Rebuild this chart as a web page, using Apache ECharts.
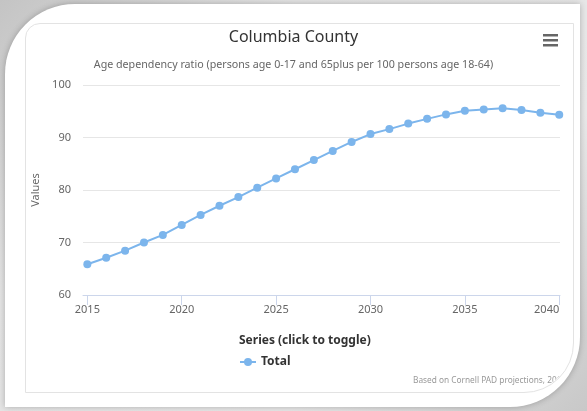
<!DOCTYPE html>
<html>
<head>
<meta charset="utf-8">
<script src="https://cdn.jsdelivr.net/npm/echarts@6/dist/echarts.min.js"></script>
<style>
    html, body { margin: 0; padding: 0; }
    body {
        width: 587px; height: 411px; overflow: hidden; position: relative;
        background: linear-gradient(135deg, #c4c4c4 0%, #e4e4e4 30%, #e8e8e8 70%, #c8c8c8 100%);
    }
    .card {
        position: absolute; left: 5px; top: 4px; width: 575px; height: 403px;
        background: #fff; border-radius: 70px 0 70px 0;
        box-shadow: 0 0 6px rgba(0,0,0,0.25);
    }
    .frame {
        position: absolute; left: 25px; top: 23px; width: 547px; height: 368px;
        border: 1px solid #e3e3e3; border-radius: 15px 0 50px 0;
    }
    #chart {
        position: absolute; left: 0; top: 0; width: 587px; height: 411px;
        clip-path: inset(23px 14px 19px 25px round 15px 0 50px 0);
    }
</style>
</head>
<body>
<div class="card"></div>
<div class="frame"></div>
<div id="chart"></div>
<script>
// 年份与数值
var years = [2015, 2016, 2017, 2018, 2019, 2020, 2021, 2022, 2023, 2024, 2025, 2026, 2027,
    2028, 2029, 2030, 2031, 2032, 2033, 2034, 2035, 2036, 2037, 2038, 2039, 2040];
var totals = [65.85, 67.1, 68.45, 70.0, 71.45, 73.35, 75.25, 77.0, 78.65, 80.45, 82.2, 83.95, 85.7,
    87.45, 89.15, 90.65, 91.6, 92.65, 93.55, 94.4, 95.1, 95.35, 95.55, 95.25, 94.7, 94.35];
var xTicks = [2015, 2020, 2025, 2030, 2035, 2040];

var font = 'Noto Sans';

var option = {
    animation: false,
    textStyle: { fontFamily: font },
    title: [
        {
            text: 'Columbia County',
            left: 'center',
            top: 24,
            textStyle: { fontFamily: font, fontSize: 16, fontWeight: 'normal', color: '#333' }
        },
        {
            text: 'Age dependency ratio (persons age 0-17 and 65plus per 100 persons age 18-64)',
            left: 'center',
            top: 54,
            textStyle: { fontFamily: font, fontSize: 10.7, fontWeight: 'normal', color: '#666' }
        },
        {
            text: 'Series (click to toggle)',
            left: 239,
            top: 335,
            padding: 0,
            textStyle: { fontFamily: font, fontSize: 12, fontWeight: 'bold', color: '#333' }
        },
        {
            text: 'Based on Cornell PAD projections, 2018',
            left: 413,
            top: 377,
            padding: 0,
            textStyle: { fontFamily: font, fontSize: 8.3, fontWeight: 'normal', color: '#999' }
        }
    ],
    legend: {
        left: 239,
        top: 356,
        padding: 0,
        itemWidth: 16,
        itemHeight: 10,
        itemGap: 4,
        textStyle: { fontFamily: font, fontSize: 12, fontWeight: 'bold', color: '#333' },
        data: ['Total']
    },
    graphic: [
        { type: 'rect', shape: { x: 543, y: 34, width: 15, height: 2.5 }, style: { fill: '#666' } },
        { type: 'rect', shape: { x: 543, y: 39, width: 15, height: 2.5 }, style: { fill: '#666' } },
        { type: 'rect', shape: { x: 543, y: 44, width: 15, height: 2.5 }, style: { fill: '#666' } }
    ],
    grid: {
        left: 83,
        right: 27,
        top: 85,
        bottom: 116
    },
    xAxis: {
        type: 'value',
        min: 2014.77,
        max: 2040.04,
        axisLine: { lineStyle: { color: '#ccd6eb', width: 1 } },
        axisTick: { show: true, length: 10, customValues: xTicks, lineStyle: { color: '#ccd6eb' } },
        axisLabel: {
            customValues: xTicks,
            formatter: function (v) { return String(v); },
            margin: 9,
            color: '#666',
            fontSize: 11,
            fontFamily: font,
            alignMaxLabel: 'right'
        },
        splitLine: { show: false }
    },
    yAxis: {
        type: 'value',
        min: 60,
        max: 100,
        interval: 10,
        name: 'Values',
        nameLocation: 'middle',
        nameGap: 40,
        nameTextStyle: { color: '#666', fontSize: 11, fontFamily: font },
        axisLine: { show: false },
        axisTick: { show: false },
        axisLabel: { margin: 12, color: '#666', fontSize: 11, fontFamily: font },
        splitLine: { lineStyle: { color: '#e6e6e6' } }
    },
    series: [
        {
            name: 'Total',
            type: 'line',
            color: '#7cb5ec',
            symbol: 'circle',
            symbolSize: 8,
            lineStyle: { width: 2 },
            data: years.map(function (y, i) { return [y, totals[i]]; })
        }
    ]
};

var myChart = echarts.init(document.getElementById('chart'));
myChart.setOption(option);
</script>
</body>
</html>
